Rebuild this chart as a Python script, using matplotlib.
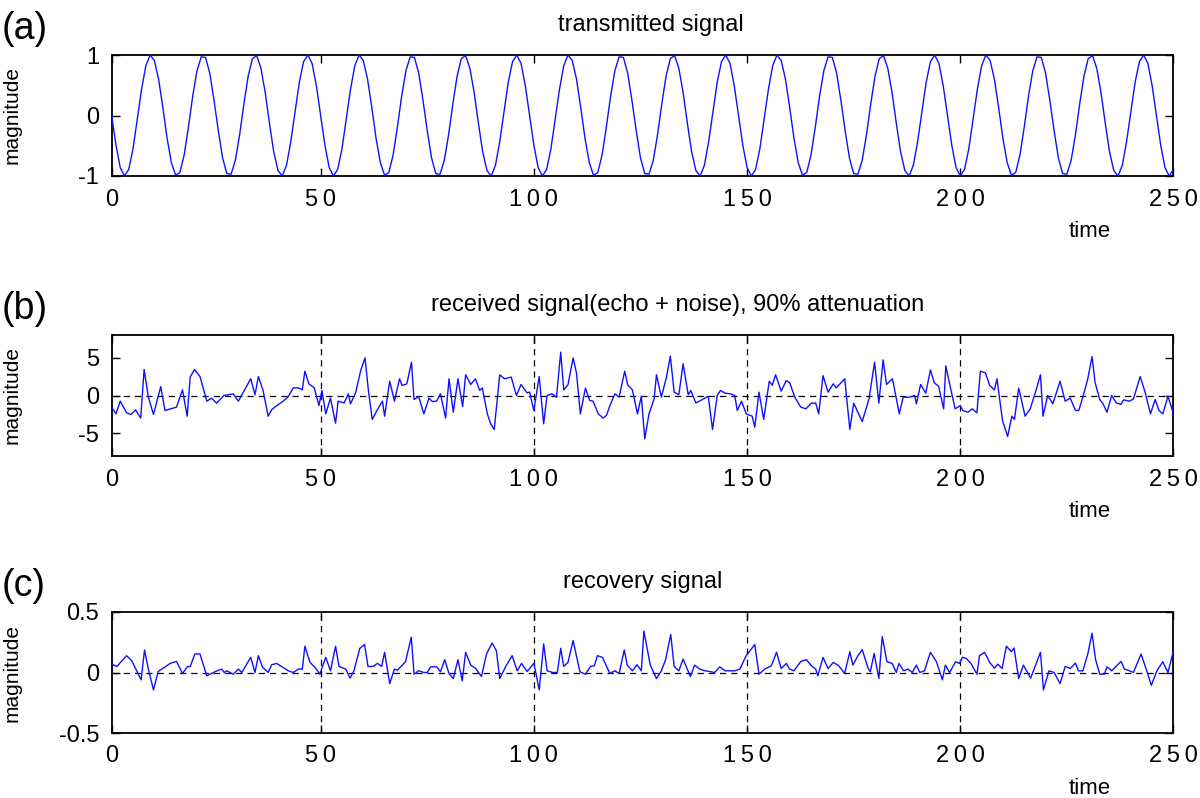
import matplotlib
matplotlib.use('Agg')
import matplotlib.pyplot as plt

plt.rcParams['font.family'] = ['Liberation Sans', 'DejaVu Sans']

# ---------------- data ----------------
# (a) transmitted signal, one value per sample (t = 1..250)
v_tx = [
    0, -0.49, -0.86, -1.00, -0.89, -0.55, -0.06, 0.43, 0.82, 1.00, 0.91, 0.60, 0.13, -0.38, -0.78, -0.99, -0.94,
    -0.65, -0.19, 0.32, 0.74, 0.97, 0.96, 0.70, 0.25, -0.25, -0.70, -0.96, -0.97, -0.74, -0.32, 0.19, 0.65, 0.94,
    0.99, 0.78, 0.38, -0.13, -0.60, -0.91, -1.00, -0.82, -0.43, 0.06, 0.55, 0.89, 1.00, 0.86, 0.49,
    0, -0.49, -0.86, -1.00, -0.89, -0.55, -0.06, 0.43, 0.82, 1.00, 0.91, 0.60, 0.13, -0.38, -0.78, -0.99, -0.94,
    -0.65, -0.19, 0.32, 0.74, 0.97, 0.96, 0.70, 0.25, -0.25, -0.70, -0.96, -0.97, -0.74, -0.32, 0.19, 0.65, 0.94,
    0.99, 0.78, 0.38, -0.13, -0.60, -0.91, -1.00, -0.82, -0.43, 0.06, 0.55, 0.89, 1.00, 0.86, 0.49,
    0, -0.49, -0.86, -1.00, -0.89, -0.55, -0.06, 0.43, 0.82, 1.00, 0.91, 0.60, 0.13, -0.38, -0.78, -0.99, -0.94,
    -0.65, -0.19, 0.32, 0.74, 0.97, 0.96, 0.70, 0.25, -0.25, -0.70, -0.96, -0.97, -0.74, -0.32, 0.19, 0.65, 0.94,
    0.99, 0.78, 0.38, -0.13, -0.60, -0.91, -1.00, -0.82, -0.43, 0.06, 0.55, 0.89, 1.00, 0.86, 0.49,
    0, -0.49, -0.86, -1.00, -0.89, -0.55, -0.06, 0.43, 0.82, 1.00, 0.91, 0.60, 0.13, -0.38, -0.78, -0.99, -0.94,
    -0.65, -0.19, 0.32, 0.74, 0.97, 0.96, 0.70, 0.25, -0.25, -0.70, -0.96, -0.97, -0.74, -0.32, 0.19, 0.65, 0.94,
    0.99, 0.78, 0.38, -0.13, -0.60, -0.91, -1.00, -0.82, -0.43, 0.06, 0.55, 0.89, 1.00, 0.86, 0.49,
    0, -0.49, -0.86, -1.00, -0.89, -0.55, -0.06, 0.43, 0.82, 1.00, 0.91, 0.60, 0.13, -0.38, -0.78, -0.99, -0.94,
    -0.65, -0.19, 0.32, 0.74, 0.97, 0.96, 0.70, 0.25, -0.25, -0.70, -0.96, -0.97, -0.74, -0.32, 0.19, 0.65, 0.94,
    0.99, 0.78, 0.38, -0.13, -0.60, -0.91, -1.00, -0.82, -0.43, 0.06, 0.55, 0.89, 1.00, 0.86, 0.49,
    0, -0.49, -0.86, -1.00, -0.89,
]
t_tx = list(range(1, len(v_tx) + 1))

# (b) received signal (echo + noise): vertices
t_rx = [
    1.0, 2.0, 3.0, 4.5, 5.5, 6.6, 7.8, 8.6, 9.6, 10.8, 12.5, 13.5, 16.2, 17.6, 18.7, 19.4, 20.4, 21.7, 23.3, 24.4,
    25.6, 27.3, 29.5, 30.7, 33.6, 34.6, 35.4, 36.5, 37.7, 38.5, 39.4, 41.2, 42.3, 43.6, 44.75, 45.7, 46.3, 47.25,
    48.5, 49.6,
    50.3, 51.2, 52.3, 53.5, 54.1, 55.5, 56.5, 57.0, 58.2, 59.4, 60.4, 61.2, 62.1, 63.3, 64.5, 65.0, 66.2, 67.3,
    68.5, 69.1, 70.2, 71.3, 71.9, 73.0, 74.2, 75.4, 76.2, 77.2, 78.1, 79.3, 80.1, 81.1, 82.2, 83.3, 84.0, 85.2,
    86.3, 87.3, 87.9, 89.1, 89.8, 90.7, 92.0, 93.1, 94.7, 95.9, 97.0, 98.4, 99.0,
    100.0, 101.25, 102.3, 103.1, 104.3, 105.3, 106.3, 107.0, 108.0, 109.2, 110.0, 110.9, 112.1, 113.1, 113.9,
    115.1, 116.25, 117.0, 118.0, 119.0, 120.0, 121.3, 122.0, 123.1, 124.3, 125.2, 126.0, 127.0, 128.2, 128.75,
    129.9, 131.1, 132.0, 132.9, 134.0, 135.0, 136.2, 136.8, 138.0, 139.1, 140.9, 141.9, 143.0, 143.75, 144.9,
    146.1, 147.1, 147.7, 148.7, 149.8,
    151.2, 151.8, 152.8, 153.9, 155.2, 155.9, 156.7, 158.0, 159.2, 160.0, 161.2, 162.6, 163.8, 165.1, 166.1,
    166.8, 167.8, 169.0, 170.2, 170.9, 172.9, 174.1, 175.0, 177.0, 178.6, 179.9, 180.9, 181.9, 182.7, 184.1,
    185.7, 186.6, 188.1, 189.3, 189.7, 190.7, 191.9, 193.0, 193.9, 194.9, 196.1, 196.6, 197.8, 198.8,
    200.0, 200.6, 201.8, 202.8, 203.9, 204.7, 205.9, 206.9, 208.0, 208.6, 209.9, 211.1, 212.1, 212.7, 213.7,
    215.2, 216.4, 217.8, 218.8, 219.4, 220.5, 221.7, 223.4, 224.6, 225.8, 227.0, 227.8, 229.0, 229.9, 230.9,
    231.6, 232.7, 233.4, 234.4, 235.5, 236.6, 237.7, 238.3, 239.7, 240.6, 242.2, 243.4, 244.6, 245.7, 246.6,
    247.5, 248.7, 250.0,
]
v_rx = [
    -1.54, -2.43, -0.75, -2.29, -2.51, -1.89, -2.99, 3.44, -0.22, -2.51, 1.18, -1.98, -1.54, 0.75, -2.74, 2.43,
    3.44, 2.51, -0.75, -0.35, -1.01, 0.00, 0.22, -0.75, 2.21, 0.10, 2.51, 0.66, -2.74, -1.89, -1.46, -0.75, -0.22,
    1.01, 1.01, 0.75, 3.22, 1.54, 1.01, -1.33,
    0.66, -2.43, -0.35, -3.66, -0.75, -0.98, 0.22, -1.10, 0.35, 3.31, 4.98, 0.66, -3.17, -1.89, -0.75, -2.74,
    1.89, -0.75, 2.21, 1.33, 1.54, 4.40, -0.53, -0.13, -2.43, -0.35, -0.80, -0.75, 0.22, -2.99, 2.21, -2.21,
    2.21, -1.46, 2.74, 1.46, 2.21, 0.66, 1.01, -2.43, -3.66, -4.50, 2.74, 2.21, 2.43, 0.00, 1.46, 0.35, 0.45,
    -1.98, 2.51, -3.74, 0.00, 0.22, -0.22, 5.73, 0.75, 1.41, 4.98, 2.96, -2.43, 0.98, -0.66, -0.75, -2.43,
    -2.99, -2.64, -1.10, 0.22, -0.22, 3.22, 1.41, 0.75, -2.43, -0.10, -5.73, -2.43, -0.45, 2.74, -0.22, 2.43,
    5.20, 0.45, 0.10, 4.19, 0.10, 0.66, -0.98, -0.66, -0.10, -4.50, 0.00, 0.66, 0.30, 0.22, 0.00, -1.98, -0.75,
    -2.43,
    -2.74, -4.19, 0.45, -3.17, 1.89, 1.33, 2.74, 0.58, 1.98, 1.68, -0.22, -1.54, -1.76, -1.01, -1.01, -2.43,
    2.64, 0.45, 1.54, 1.01, 2.21, -4.50, -1.01, -3.44, -0.45, 4.40, -1.01, 4.72, 1.46, 2.21, -2.43, -0.22,
    -0.22, 0.00, -1.10, 1.46, 0.30, 3.39, 1.68, 1.23, -1.76, 3.92, 0.75, -1.76,
    -1.33, -1.98, -2.21, -1.76, -2.29, 3.22, 2.99, 1.33, 0.75, 2.21, -3.31, -5.42, -2.74, -3.17, 0.98, -2.74,
    -1.76, 0.75, 2.74, -2.74, 0.00, -1.10, 1.89, -0.75, -0.35, -1.98, -1.98, 0.30, 2.21, 5.15, 1.76, -0.53,
    -1.01, -2.21, 0.00, -0.98, -1.18, -0.58, -0.75, -0.45, 2.51, 0.30, -2.43, -0.53, -1.98, -2.43, -0.10, -2.43,
]

# (c) recovery signal: vertices
t_rc = [
    1.0, 2.2, 4.5, 5.7, 7.9, 8.7, 9.6, 10.8, 11.9, 14.7, 16.2, 17.6, 18.8, 19.4, 20.5, 21.7, 23.3, 25.2, 26.8,
    27.4, 28.0, 29.5, 30.7, 31.5, 33.6, 34.6, 35.4, 36.4, 37.7, 38.5, 39.7, 42.4, 43.6, 44.75, 45.7, 46.3, 47.5,
    48.7, 49.8,
    51.2, 52.3, 53.5, 54.3, 55.9, 56.9, 57.8, 59.2, 60.3, 61.1, 62.3, 63.3, 64.3, 65.0, 66.2, 67.3, 68.0, 69.9,
    71.25, 71.9, 73.0, 74.2, 75.0, 75.8, 77.2, 78.1, 79.1, 80.1, 81.1, 82.2, 83.2, 84.0, 85.2, 86.3, 87.7, 88.9,
    90.2, 91.2, 92.0, 93.4, 94.9, 96.1, 97.1, 98.4,
    100.0, 100.5, 101.25, 102.3, 103.1, 104.4, 105.5, 106.3, 107.0, 108.0, 109.2, 110.8, 112.1, 113.3, 114.2,
    114.9, 116.1, 117.8, 119.0, 120.0, 121.2, 121.9, 123.1, 124.2, 125.2, 125.8, 127.3, 128.75, 129.9, 130.9,
    132.1, 132.9, 134.0, 135.0, 136.7, 137.7, 138.9, 140.1, 141.25, 142.4, 143.6, 144.8, 147.1, 148.3, 149.8,
    151.8, 152.8, 154.1, 155.7, 156.9, 158.0, 159.2, 160.0, 161.0, 162.6, 163.9, 165.1, 166.1, 166.6, 167.8,
    169.0, 170.2, 171.5, 172.9, 174.1, 174.8, 176.0, 177.0, 178.4, 178.9, 179.8, 180.9, 181.7, 182.8, 184.0,
    185.0, 185.6, 186.7, 187.7, 188.75, 189.7, 190.5, 191.6, 193.0, 194.4, 195.8, 196.5, 197.5, 198.9,
    199.8, 200.5, 201.4, 202.6, 203.9, 204.5, 205.7, 206.9, 208.0, 208.8, 209.8, 210.8, 212.0, 212.6, 213.7,
    214.8, 216.5, 218.8, 219.5, 220.8, 222.0, 223.4, 224.6, 225.8, 227.0, 227.7, 228.75, 229.9, 230.9, 231.7,
    232.7, 233.8, 234.4, 235.5, 237.7, 238.5, 239.7, 240.6, 242.4, 243.6, 244.8, 246.1, 247.5, 248.7, 250.0,
]
v_rc = [
    0.069, 0.050, 0.139, 0.097, -0.061, 0.186, 0.028, -0.144, 0.008, 0.075, 0.092, -0.008, 0.050, 0.047, 0.153,
    0.153, -0.028, 0.006, 0.028, 0.000, 0.014, -0.014, 0.028, 0.000, 0.125, 0.000, 0.139, 0.042, 0.000, 0.064,
    0.075, 0.014, 0.000, 0.028, 0.028, 0.217, 0.083, 0.042, -0.014,
    0.125, 0.014, 0.217, 0.050, 0.028, -0.047, 0.014, 0.200, 0.231, 0.050, 0.050, 0.075, 0.050, 0.167, -0.092,
    0.028, 0.019, 0.089, 0.292, -0.014, 0.014, 0.000, 0.000, 0.047, 0.047, 0.006, 0.106, -0.008, -0.050, 0.106,
    -0.069, 0.167, 0.061, 0.036, -0.033, 0.153, 0.244, 0.181, -0.050, 0.050, 0.139, 0.014, 0.075, 0.008,
    0.075, -0.008, -0.144, 0.236, 0.014, 0.000, 0.000, 0.200, 0.050, 0.083, 0.264, 0.006, -0.014, 0.050, 0.056,
    0.139, 0.125, -0.008, 0.014, -0.008, 0.186, 0.061, 0.014, 0.064, 0.014, 0.342, 0.061, -0.050, 0.014, 0.106,
    0.314, 0.050, 0.014, 0.111, -0.033, 0.061, 0.028, 0.014, 0.008, 0.000, 0.047, 0.014, 0.014, 0.028, 0.139,
    0.231, -0.014, 0.028, 0.056, 0.167, 0.033, 0.075, 0.028, 0.014, 0.092, 0.106, 0.056, 0.028, -0.028, 0.125,
    0.033, 0.083, 0.056, -0.008, 0.172, 0.061, 0.139, 0.189, 0.033, 0.006, 0.158, -0.050, 0.297, 0.089, 0.075,
    0.000, 0.075, 0.014, 0.028, 0.000, 0.061, 0.000, 0.014, 0.167, 0.089, -0.061, 0.061, 0.000, 0.089,
    0.075, 0.125, 0.117, 0.069, -0.014, 0.139, 0.167, 0.083, 0.036, 0.069, 0.033, 0.217, 0.172, 0.203, -0.050,
    0.061, -0.047, 0.167, -0.144, 0.014, 0.000, -0.092, 0.050, 0.033, 0.078, 0.014, 0.014, 0.153, 0.325, 0.111,
    -0.014, -0.014, 0.047, 0.014, 0.092, 0.028, 0.014, 0.000, 0.153, 0.028, -0.106, 0.014, 0.089, 0.000, 0.181,
]

panel_letters = ['(a)', '(b)', '(c)']
titles = ['transmitted signal', 'received signal(echo + noise), 90% attenuation', 'recovery signal']
title_x = [0.508, 0.533, 0.5]
x_ticks = [1, 50, 100, 150, 200, 250]
x_tick_labels = ['0', '5\u20090', '1\u20090\u20090', '1\u20095\u20090', '2\u20090\u20090', '2\u20095\u20090']
y_lims = [(-1, 1), (-8, 8), (-0.5, 0.5)]
y_ticks = [[-1, 0, 1], [-5, 0, 5], [-0.5, 0, 0.5]]
y_tick_labels = [['-1', '0', '1'], ['-5', '0', '5'], ['-0.5', '0', '0.5']]
grid_x = [50, 100, 150, 200]

# ---------------- figure ----------------
W, H = 1200, 798
fig = plt.figure(figsize=(W / 100, H / 100), dpi=100)

left_px, right_px = 111.7, 1173.5
tops_px = [55, 335, 612]
height_px = 121

series = [(t_tx, v_tx), (t_rx, v_rx), (t_rc, v_rc)]

for i in range(3):
    top = tops_px[i]
    ax = fig.add_axes([left_px / W, 1 - (top + height_px) / H,
                       (right_px - left_px) / W, height_px / H])
    t, v = series[i]
    ax.plot(t, v, color='#1010ff', lw=1.0, zorder=3)
    ax.set_xlim(1, 250)
    ax.set_ylim(*y_lims[i])
    ax.set_xticks(x_ticks)
    ax.set_xticklabels(x_tick_labels)
    ax.set_yticks(y_ticks[i])
    ax.set_yticklabels(y_tick_labels[i])
    ax.tick_params(direction='in', top=True, right=True, length=6, width=1.0,
                   labelsize=17, pad=9)
    for s in ax.spines.values():
        s.set_linewidth(1.3)
    if i > 0:
        ax.axhline(0, color='black', lw=0.9, ls=(0, (5, 4)), zorder=2)
        for gx in grid_x:
            ax.axvline(gx, color='black', lw=0.9, ls=(0, (5, 4)), zorder=2)
    ax.text(title_x[i], 1 + 30 / height_px, titles[i], transform=ax.transAxes,
            ha='center', va='center', fontsize=17)
    ax.set_ylabel('magnitude', fontsize=15)
    ax.yaxis.set_label_coords(-0.085, 0.5)
    ax.set_xlabel('time', fontsize=16)
    ax.xaxis.set_label_coords(0.921, -0.37)
    fig.text(2 / W, 1 - (top - 26) / H, panel_letters[i], ha='left', va='center', fontsize=27)

fig.savefig('out.png', dpi=100)
